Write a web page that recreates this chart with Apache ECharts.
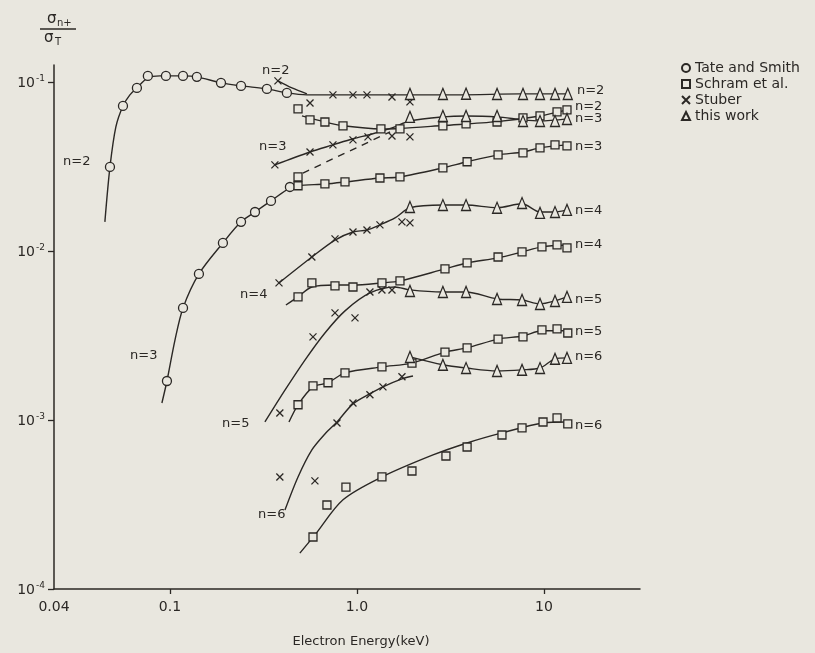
<!DOCTYPE html>
<html>
<head>
<meta charset="utf-8">
<script src="https://cdn.jsdelivr.net/npm/echarts@6/dist/echarts.min.js"></script>
<style>
  html, body { margin: 0; padding: 0; background: #e9e7df; }
  #chart { width: 815px; height: 653px; }
</style>
</head>
<body>
<div id="chart"></div>
<script>
// Ratio of n-fold ionisation cross section to total, versus electron energy (keV)
const INK = '#2b2825';
const PAPER = '#e9e7df';
const FONT = 'DejaVu Sans';

// ---- measured points [energy keV, ratio] ----
// Tate and Smith
const tateN2 = [[0.0478,0.0314],[0.0561,0.0721],[0.0666,0.0921],[0.0762,0.1085],[0.0952,0.1085],[0.1175,0.1085],[0.1393,0.1071],[0.1875,0.0987],[0.240,0.0947],[0.330,0.0909],[0.422,0.0861]];
const tateN3 = [[0.0964,0.00170],[0.1175,0.00460],[0.1429,0.00731],[0.192,0.01115],[0.240,0.01486],[0.285,0.0170],[0.347,0.01977],[0.438,0.0239]];
// Schram et al.
const schramN2 = [[0.484,0.0692],[0.561,0.0596],[0.674,0.0579],[0.842,0.0550],[1.343,0.0527],[1.698,0.0527],[2.88,0.0550],[3.83,0.0564],[5.61,0.0579],[7.72,0.0612],[9.52,0.0629],[11.74,0.0665],[13.27,0.0683]];
const schramN3 = [[0.484,0.0274],[0.484,0.0243],[0.674,0.0249],[0.863,0.0256],[1.327,0.0270],[1.698,0.0274],[2.88,0.0310],[3.88,0.0337],[5.68,0.0370],[7.72,0.0380],[9.52,0.0407],[11.45,0.0424],[13.27,0.0418]];
const schramN4 = [[0.484,0.00535],[0.574,0.00647],[0.763,0.00621],[0.952,0.00612],[1.36,0.00647],[1.698,0.00665],[2.955,0.00783],[3.88,0.00849],[5.68,0.00921],[7.63,0.00986],[9.75,0.01057],[11.74,0.01085],[13.27,0.01042]];
const schramN5 = [[0.484,0.00123],[0.582,0.00159],[0.700,0.00166],[0.863,0.00190],[1.36,0.00206],[1.968,0.00217],[2.955,0.00252],[3.88,0.00267],[5.68,0.00301],[7.72,0.00310],[9.75,0.00341],[11.74,0.00346],[13.4,0.00327]];
const schramN6 = [[0.582,0.000203],[0.691,0.000314],[0.873,0.000401],[1.36,0.000460],[1.968,0.000499],[2.99,0.000612],[3.88,0.000692],[5.96,0.000815],[7.63,0.000897],[9.88,0.000973],[11.74,0.001028],[13.4,0.000947]];
// Stuber
const stuberN2 = [[0.378,0.1014],[0.561,0.0751],[0.744,0.0838],[0.952,0.0838],[1.131,0.0838],[1.539,0.0815],[1.92,0.0762]];
const stuberN3 = [[0.364,0.0323],[0.561,0.0385],[0.744,0.0424],[0.952,0.0454],[1.145,0.0473],[1.539,0.0479],[1.92,0.0473]];
const stuberN4 = [[0.383,0.00647],[0.574,0.00921],[0.763,0.01178],[0.952,0.01295],[1.131,0.0133],[1.327,0.01426],[1.740,0.01486],[1.92,0.01466]];
const stuberN5 = [[0.387,0.00110],[0.582,0.00310],[0.763,0.00430],[0.976,0.00402],[1.173,0.00572],[1.36,0.00588],[1.539,0.00588]];
const stuberN6 = [[0.387,0.00046],[0.596,0.000436],[0.782,0.00096],[0.952,0.00126],[1.173,0.00141],[1.377,0.00157],[1.740,0.00180]];
// this work
const workN2 = [[1.92,0.0849],[2.88,0.0849],[3.83,0.0852],[5.61,0.0849],[7.72,0.0849],[9.52,0.0849],[11.45,0.0849],[13.4,0.0849]];
const workN3 = [[1.92,0.0621],[2.88,0.0629],[3.83,0.0629],[5.61,0.0629],[7.72,0.0587],[9.52,0.0587],[11.45,0.0587],[13.27,0.0604]];
const workN4 = [[1.92,0.0182],[2.88,0.0187],[3.83,0.0187],[5.61,0.0180],[7.63,0.0192],[9.52,0.0168],[11.45,0.0170],[13.27,0.0175]];
const workN5 = [[1.92,0.0058],[2.88,0.00572],[3.83,0.00572],[5.61,0.0052],[7.63,0.00513],[9.52,0.00486],[11.45,0.00506],[13.27,0.00535]];
const workN6 = [[1.92,0.00236],[2.88,0.00212],[3.83,0.00203],[5.61,0.00195],[7.63,0.00198],[9.52,0.00203],[11.45,0.0023],[13.27,0.00233]];

// ---- drawn trend curves [energy keV, ratio] ----
const curveN2 = [[0.0449,0.01486],[0.0478,0.0314],[0.0514,0.0542],[0.0561,0.0721],[0.0611,0.0838],[0.0666,0.0921],[0.0762,0.1056],[0.0885,0.1085],[0.1175,0.1085],[0.1393,0.1071],[0.1875,0.0987],[0.240,0.0947],[0.330,0.0909],[0.422,0.0861],[0.540,0.0838],[0.811,0.0838],[1.698,0.0838],[3.56,0.0838],[7.44,0.0849],[13.6,0.0849]];
const curveStuberN2 = [[0.378,0.1014],[0.449,0.0921],[0.540,0.0849]];
const curveSchramN2 = [[0.508,0.0629],[0.674,0.0579],[0.842,0.0550],[1.343,0.0527],[1.698,0.0530],[2.88,0.0552],[5.61,0.0582],[9.52,0.0629],[13.27,0.0683]];
const curveN3Upper = [[0.364,0.0323],[0.561,0.0385],[0.744,0.0424],[0.952,0.0461],[1.203,0.0492],[1.539,0.0535],[1.92,0.0587],[2.88,0.0621],[3.83,0.0629],[5.61,0.0621],[7.72,0.0596],[9.52,0.0587],[13.27,0.0604]];
const curveN3Lower = [[0.0906,0.00126],[0.0964,0.00170],[0.1064,0.00297],[0.1175,0.00460],[0.1429,0.00731],[0.192,0.01115],[0.240,0.01486],[0.285,0.0170],[0.347,0.01977],[0.438,0.0236],[0.484,0.0243],[0.674,0.0249],[0.863,0.0256],[1.327,0.0270],[1.698,0.0274],[2.88,0.0310],[3.88,0.0337],[5.68,0.0370],[7.72,0.0385],[9.52,0.0407],[13.27,0.0424]];
const dashedN3 = [[0.514,0.0289],[1.502,0.0506]];
const curveN4Upper = [[0.383,0.00647],[0.574,0.00921],[0.763,0.0116],[0.952,0.01295],[1.131,0.0133],[1.327,0.01426],[1.597,0.01567],[1.92,0.0180],[2.88,0.0187],[3.83,0.0187],[5.61,0.0180],[7.63,0.0190],[9.52,0.0170],[11.45,0.0170],[13.27,0.0175]];
const curveSchramN4 = [[0.417,0.00479],[0.484,0.00535],[0.574,0.00612],[0.763,0.00629],[0.952,0.00629],[1.36,0.00647],[1.698,0.00665],[2.955,0.00783],[3.88,0.00849],[5.68,0.0091],[7.63,0.00986],[9.75,0.01057],[13.27,0.01085]];
const curveN5Upper = [[0.322,0.000973],[0.412,0.0015],[0.527,0.00226],[0.674,0.00327],[0.863,0.00442],[1.173,0.00564],[1.597,0.00612],[1.92,0.00588],[2.88,0.00572],[3.83,0.00572],[5.61,0.0052],[7.63,0.00513],[9.52,0.00486],[11.45,0.00506],[13.27,0.00535]];
const curveSchramN5 = [[0.433,0.000973],[0.484,0.00123],[0.582,0.00157],[0.700,0.00166],[0.863,0.00190],[1.36,0.00206],[1.968,0.00217],[2.955,0.00252],[3.88,0.00267],[5.68,0.00301],[7.72,0.00314],[9.75,0.00337],[13.27,0.00337]];
const curveWorkN6 = [[1.92,0.00236],[2.88,0.00212],[3.83,0.00203],[5.61,0.00195],[7.63,0.00198],[9.52,0.00203],[11.45,0.0023],[13.27,0.00233]];
const curveStuberN6 = [[0.412,0.000293],[0.484,0.00046],[0.574,0.000665],[0.674,0.000826],[0.782,0.000973],[0.952,0.001245],[1.173,0.00143],[1.377,0.00157],[1.740,0.00175],[1.993,0.00182]];
const curveSchramN6 = [[0.495,0.000163],[0.596,0.000209],[0.842,0.000337],[1.36,0.00046],[2.55,0.000621],[3.88,0.000731],[5.96,0.000838],[9.88,0.00096],[13.27,0.000973]];

// ---- axis ticks ----
const xTickValues = [0.1, 1, 10];
const xAxisStart = 0.024;
const xAxisEnd = 32.6;
const xLabelText = ['0.04', '0.1', '1.0', '10'];
const yTickValues = [1e-4, 1e-3, 1e-2, 1e-1];
const yAxisTop = 0.1259;

// labels at the left-hand ends of the curves: [text, left px, centre y px]
const leftLabels = [['n=2', 63, 163], ['n=2', 262, 72], ['n=3', 259, 148], ['n=3', 130, 357], ['n=4', 240, 296], ['n=5', 222, 425], ['n=6', 258, 516]];

const chart = echarts.init(document.getElementById('chart'), null, { renderer: 'canvas' });

function curve(data, label, dy, dashed) {
  const s = {
    type: 'line', data: data, smooth: 0.3, showSymbol: false, symbol: 'none',
    silent: true, z: 2, animation: false,
    lineStyle: { color: INK, width: 1.4, type: dashed ? [7, 6] : 'solid' }
  };
  if (label) {
    s.endLabel = { show: true, formatter: label, color: INK, fontFamily: FONT, fontSize: 13, distance: 8, offset: [0, dy || 0] };
  }
  return s;
}

function marks(name, data, symbol, size) {
  return {
    type: 'scatter', name: name, data: data, symbol: symbol, symbolSize: size, z: 5,
    itemStyle: { color: symbol.indexOf('path') === 0 ? 'rgba(0,0,0,0)' : PAPER, borderColor: INK, borderWidth: 1.3, opacity: 1 }
  };
}

const crossPath = 'path://M0 0L10 10M10 0L0 10';

chart.setOption({
  backgroundColor: PAPER,
  animation: false,
  textStyle: { fontFamily: FONT, color: INK },
  grid: { left: 54, right: 175, top: 65, bottom: 64 },
  legend: {
    orient: 'vertical', left: 676, top: 56, itemWidth: 8, itemHeight: 8, itemGap: 2,
    textStyle: { fontFamily: FONT, fontSize: 14, color: INK },
    data: ['Tate and Smith', 'Schram et al.', 'Stuber', 'this work']
  },
  xAxis: {
    type: 'log', logBase: 10, min: xAxisStart, max: xAxisEnd,
    name: 'Electron Energy(keV)', nameLocation: 'middle', nameGap: 46,
    nameTextStyle: { fontFamily: FONT, fontSize: 13, color: INK, padding: [0, 0, 0, 28] },
    axisLine: { lineStyle: { color: INK, width: 1.5 } },
    axisTick: { customValues: xTickValues, length: 5, lineStyle: { color: INK, width: 1.3 } },
    axisLabel: {
      customValues: [xAxisStart].concat(xTickValues), margin: 11,
      fontFamily: FONT, fontSize: 14, color: INK,
      formatter: function (v) {
        const all = [xAxisStart].concat(xTickValues);
        let best = 0;
        all.forEach(function (t, i) { if (Math.abs(Math.log10(t) - Math.log10(v)) < Math.abs(Math.log10(all[best]) - Math.log10(v))) best = i; });
        return xLabelText[best];
      }
    },
    splitLine: { show: false }, minorTick: { show: false }
  },
  yAxis: {
    type: 'log', logBase: 10, min: yTickValues[0], max: yAxisTop,
    axisLine: { lineStyle: { color: INK, width: 1.5 } },
    axisTick: { customValues: yTickValues, length: 6, lineStyle: { color: INK, width: 1.3 } },
    axisLabel: {
      customValues: yTickValues, margin: 9, color: INK,
      formatter: function (v) { return '{b|10}{s|' + Math.round(Math.log10(v)) + '}'; },
      rich: {
        b: { fontFamily: FONT, fontSize: 14, color: INK, verticalAlign: 'bottom' },
        s: { fontFamily: FONT, fontSize: 9, color: INK, verticalAlign: 'bottom', padding: [0, 0, 7, 1] }
      }
    },
    splitLine: { show: false }, minorTick: { show: false }
  },
  graphic: [
    { type: 'text', left: 47, top: 12, style: { text: 'σ', font: '15px "DejaVu Sans"', fill: INK } },
    { type: 'text', left: 57, top: 18, style: { text: 'n+', font: '10px "DejaVu Sans"', fill: INK } },
    { type: 'line', shape: { x1: 40, y1: 29, x2: 76, y2: 29 }, style: { stroke: INK, lineWidth: 1.3 } },
    { type: 'text', left: 44, top: 31, style: { text: 'σ', font: '15px "DejaVu Sans"', fill: INK } },
    { type: 'text', left: 55, top: 37, style: { text: 'T', font: '10px "DejaVu Sans"', fill: INK } }
  ].concat(leftLabels.map(function (l) {
    return { type: 'text', left: l[1], top: l[2] - 8, style: { text: l[0], font: '13px "DejaVu Sans"', fill: INK } };
  })),
  series: [
    curve(curveN2, 'n=2', -3),
    curve(curveStuberN2),
    curve(curveSchramN2, 'n=2', -3),
    curve(curveN3Upper, 'n=3', 0),
    curve(curveN3Lower, 'n=3', 2),
    curve(dashedN3, null, 0, true),
    curve(curveN4Upper, 'n=4', 1),
    curve(curveSchramN4, 'n=4', 0),
    curve(curveN5Upper, 'n=5', 3),
    curve(curveSchramN5, 'n=5', 1),
    curve(curveWorkN6, 'n=6', -1),
    curve(curveStuberN6),
    curve(curveSchramN6, 'n=6', 4),
    marks('Tate and Smith', tateN2.concat(tateN3), 'circle', 9),
    marks('Schram et al.', schramN2.concat(schramN3, schramN4, schramN5, schramN6), 'rect', 8),
    marks('Stuber', stuberN2.concat(stuberN3, stuberN4, stuberN5, stuberN6), crossPath, 7),
    marks('this work', workN2.concat(workN3, workN4, workN5, workN6), 'triangle', [9, 11])
  ]
});
</script>
</body>
</html>
